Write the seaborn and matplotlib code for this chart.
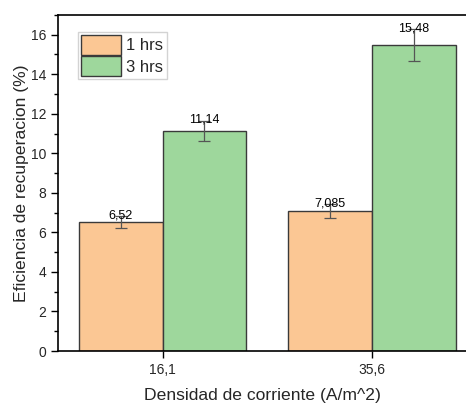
import matplotlib
matplotlib.use("Agg")
import matplotlib.pyplot as plt
from matplotlib.ticker import MultipleLocator
import seaborn as sns
import pandas as pd

# Data
densidad = ["16,1", "35,6"]
series = ["1 hrs", "3 hrs"]
eficiencia_1h = [6.52, 7.085]
eficiencia_3h = [11.14, 15.48]
error_1h = [0.30, 0.35]
error_3h = [0.50, 0.80]
etiquetas_1h = ["6,52", "7,085"]
etiquetas_3h = ["11,14", "15,48"]

df = pd.DataFrame({
    "densidad": densidad * 2,
    "tiempo": [series[0]] * 2 + [series[1]] * 2,
    "eficiencia": eficiencia_1h + eficiencia_3h,
    "error": error_1h + error_3h,
    "etiqueta": etiquetas_1h + etiquetas_3h,
})

sns.set_style("ticks")
plt.rcParams["font.family"] = ["Liberation Sans", "DejaVu Sans"]

fig = plt.figure(figsize=(4.66, 4.03), dpi=100)
ax = fig.add_axes([0.1245, 0.129, 0.8755, 0.834])

palette = {series[0]: "#FBC794", series[1]: "#9ED79C"}
sns.barplot(data=df, x="densidad", y="eficiencia", hue="tiempo",
            hue_order=series, order=densidad, palette=palette,
            width=0.8, edgecolor="#3a3a3a", linewidth=1.0,
            saturation=1, errorbar=None, ax=ax)

# Error bars and value labels placed on each bar
for container, name in zip(ax.containers, series):
    sub = df[df["tiempo"] == name].set_index("densidad").loc[densidad]
    for patch, val, err, lab in zip(container.patches, sub["eficiencia"],
                                    sub["error"], sub["etiqueta"]):
        xc = patch.get_x() + patch.get_width() / 2
        ax.errorbar(xc, val, yerr=err, color="#555555", elinewidth=0.9,
                    capsize=4, capthick=0.9, zorder=5)
        ax.text(xc, val + err + 0.05, lab, ha="center", va="center",
                fontsize=9, color="black", zorder=6)

ax.set_xlim(-0.5, 1.45)
ax.set_ylim(0, 17)
ax.yaxis.set_major_locator(MultipleLocator(2))
ax.yaxis.set_minor_locator(MultipleLocator(1))
ax.tick_params(axis="both", which="major", direction="out", length=5,
               width=1, labelsize=10, color="black")
ax.tick_params(axis="y", which="minor", direction="out", length=3,
               width=1, color="black")

for side in ["left", "bottom", "top"]:
    ax.spines[side].set_visible(True)
    ax.spines[side].set_color("black")
    ax.spines[side].set_linewidth(1.2)
ax.spines["right"].set_visible(False)

ax.set_xlabel("Densidad de corriente (A/m^2)", fontsize=12.6, labelpad=8)
ax.set_ylabel("Eficiencia de recuperacion (%)", fontsize=12.6, labelpad=1.5)

leg = ax.legend(loc="upper left", bbox_to_anchor=(0.049, 0.95),
                fontsize=12, frameon=True, fancybox=False,
                handlelength=2.4, handleheight=1.45, handletextpad=0.3,
                borderpad=0.2, labelspacing=0.08, borderaxespad=0)
leg.get_frame().set_edgecolor("#c8c8c8")
leg.get_frame().set_linewidth(1.0)

fig.savefig("out.png", dpi=100)
